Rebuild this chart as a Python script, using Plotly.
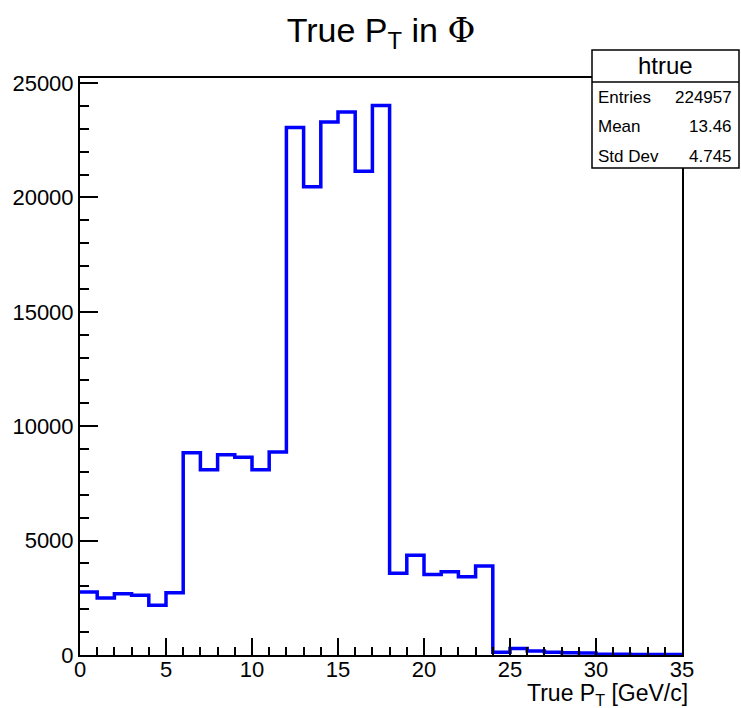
import plotly.graph_objects as go

# Histogram data: 35 bins of width 1 GeV/c from 0 to 35
bin_edges = list(range(0, 36))
counts = [2753, 2490, 2680, 2610, 2170, 2720,
          8843, 8100, 8755, 8640, 8100, 8870,
          23060, 20470, 23300, 23730, 21140, 24020,
          3570, 4356, 3520, 3640, 3420, 3890,
          120, 280, 180, 120, 100, 90,
          30, 30, 25, 25, 20]

stats_title = "htrue"
stats_labels = ["Entries", "Mean", "Std Dev"]
stats_values = ["224957", "13.46", "4.745"]

y_max = max(counts) * 1.05

FONT = "Liberation Sans, Arial, Helvetica, sans-serif"

x_line = bin_edges
y_line = counts + [counts[-1]]

PW, PH = 602, 577  # plot area in pixels

fig = go.Figure()
fig.add_trace(go.Scatter(
    x=x_line, y=y_line, mode="lines", line_shape="hv",
    line=dict(color="#0000ff", width=3.5), hoverinfo="skip", showlegend=False,
))

fig.update_layout(
    width=741, height=708,
    margin=dict(l=80, r=59, t=78, b=53, autoexpand=False),
    paper_bgcolor="white", plot_bgcolor="white",
    font=dict(family=FONT, color="black"),
    title=dict(
        text='True P<sub>T</sub> in <span style="font-family:DejaVu Serif">Φ</span>',
        x=381 / 741, xanchor="center", y=1 - 30 / 708, yanchor="middle",
        font=dict(size=34, family=FONT, color="black"),
    ),
    xaxis=dict(
        range=[0, 35], dtick=5, tick0=0, showgrid=False, zeroline=False,
        showline=True, linecolor="black", linewidth=2, mirror=True, automargin=False,
        ticks="inside", ticklen=17, tickwidth=2, tickcolor="black", ticklabelstandoff=-6,
        minor=dict(ticks="inside", dtick=1, ticklen=8, tickwidth=1.5, tickcolor="black", showgrid=False),
        tickfont=dict(size=22, family=FONT, color="black"),
    ),
    yaxis=dict(
        range=[0, y_max], dtick=5000, tick0=0, tickformat="d", showgrid=False, zeroline=False,
        showline=True, linecolor="black", linewidth=2, mirror=True, automargin=False,
        ticks="inside", ticklen=18, tickwidth=2, tickcolor="black",
        minor=dict(ticks="inside", dtick=1000, ticklen=9, tickwidth=1.5, tickcolor="black", showgrid=False),
        tickfont=dict(size=22, family=FONT, color="black"),
    ),
)

# x-axis title, right-aligned like ROOT
fig.add_annotation(
    text="True P<sub>T</sub> [GeV/c]", xref="paper", yref="paper",
    x=(690 - 80) / PW, y=(655 - 694) / PH, xanchor="right", yanchor="middle", showarrow=False,
    font=dict(size=23, family=FONT, color="black"),
)

# Stats box
bx0, bx1 = (592 - 80) / PW, (739 - 80) / PW
by_top, by_bot = (655 - 50) / PH, (655 - 168) / PH
by_sep = (655 - 82) / PH
fig.add_shape(type="rect", xref="paper", yref="paper", x0=bx0, x1=bx1, y0=by_bot, y1=by_top,
              fillcolor="white", line=dict(color="black", width=1.5), layer="above")
fig.add_shape(type="line", xref="paper", yref="paper", x0=bx0, x1=bx1, y0=by_sep, y1=by_sep,
              line=dict(color="black", width=1.5), layer="above")
fig.add_annotation(text=stats_title, xref="paper", yref="paper",
                   x=(bx0 + bx1) / 2, y=(655 - 66) / PH, xanchor="center", yanchor="middle",
                   showarrow=False, font=dict(size=24, family=FONT, color="black"))
row_px = [97, 127, 156]
for lab, val, py in zip(stats_labels, stats_values, row_px):
    yy = (655 - py) / PH
    fig.add_annotation(text=lab, xref="paper", yref="paper", x=(596 - 80) / PW, y=yy,
                       xanchor="left", yanchor="middle", showarrow=False,
                       font=dict(size=17, family=FONT, color="black"))
    fig.add_annotation(text=val, xref="paper", yref="paper", x=(734 - 80) / PW, y=yy,
                       xanchor="right", yanchor="middle", showarrow=False,
                       font=dict(size=17, family=FONT, color="black"))

fig.write_html("out.html", config={"displayModeBar": False},
               post_script="document.body.style.margin='0';document.body.style.overflow='hidden';")
